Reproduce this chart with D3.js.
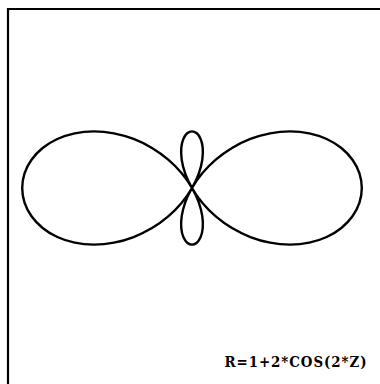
<!DOCTYPE html>
<html>
<head>
<meta charset="utf-8">
<script src="https://cdn.jsdelivr.net/npm/d3@7"></script>
<style>
html,body{margin:0;padding:0;background:#fff;}
svg{display:block;}
</style>
</head>
<body>
<script>
// Polar angle Z (degrees) and radius R
const angles = [0,5,10,15,20,25,30,35,40,45,50,55,60,65,70,75,80,85,90,95,100,105,110,115,120,125,130,135,140,145,150,155,160,165,170,175,
                180,185,190,195,200,205,210,215,220,225,230,235,240,245,250,255,260,265,270,275,280,285,290,295,300,305,310,315,320,325,330,335,340,345,350,355];
const radii = [3.000,2.970,2.879,2.732,2.532,2.286,2.000,1.684,1.347,1.000,0.653,0.316,0.000,-0.286,-0.532,-0.732,-0.879,-0.970,-1.000,-0.970,-0.879,-0.732,-0.532,-0.286,0.000,0.316,0.653,1.000,1.347,1.684,2.000,2.286,2.532,2.732,2.879,2.970,
               3.000,2.970,2.879,2.732,2.532,2.286,2.000,1.684,1.347,1.000,0.653,0.316,0.000,-0.286,-0.532,-0.732,-0.879,-0.970,-1.000,-0.970,-0.879,-0.732,-0.532,-0.286,0.000,0.316,0.653,1.000,1.347,1.684,2.000,2.286,2.532,2.732,2.879,2.970];
const label = "R=1+2*COS(2*Z)";

const W = 380, H = 384;
const cx = 192, cy = 188;

const svg = d3.select("body").append("svg").attr("width", W).attr("height", H);

// frame (top and left edges visible)
svg.append("path")
  .attr("d", "M8,384 L8,9 L380,9")
  .attr("fill", "none").attr("stroke", "#000").attr("stroke-width", 2.2);

const rScale = d3.scaleLinear().domain([0, 3]).range([0, 169.8]);
const aScale = d3.scaleLinear().domain([0, 360]).range([Math.PI / 2, Math.PI / 2 - 2 * Math.PI]);

const pts = angles.map((a, i) => ({a: a, r: radii[i]}));

const line = d3.lineRadial()
  .angle(d => aScale(d.a))
  .radius(d => rScale(d.r))
  .curve(d3.curveCatmullRomClosed.alpha(0.5));

svg.append("g").attr("transform", `translate(${cx},${cy})`)
  .append("path")
  .datum(pts)
  .attr("d", line)
  .attr("fill", "none")
  .attr("stroke", "#000")
  .attr("stroke-width", 2.4)
  .attr("stroke-linejoin", "round");

svg.append("text")
  .attr("x", 224.5).attr("y", 367)
  .attr("font-family", "'DejaVu Serif', serif")
  .attr("font-weight", "bold")
  .attr("font-size", 14)
  .attr("letter-spacing", 1)
  .attr("textLength", 143)
  .attr("lengthAdjust", "spacingAndGlyphs")
  .attr("fill", "#000")
  .text(label);
</script>
</body>
</html>
